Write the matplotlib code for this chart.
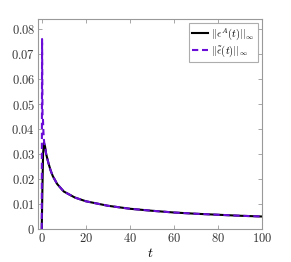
import matplotlib
matplotlib.use("Agg")
import matplotlib.pyplot as plt
from matplotlib.ticker import FuncFormatter

plt.rcParams['mathtext.fontset'] = 'cm'
plt.rcParams['font.family'] = 'serif'
plt.rcParams['font.serif'] = ['DejaVu Serif']

t_a = [0, 0.3, 0.6, 1.0, 1.5, 2, 3, 4, 5, 7, 10, 15, 20, 30, 40, 50, 60, 70, 80, 90, 100]
e_a = [0, 0.016, 0.030, 0.0345, 0.033, 0.030, 0.0265, 0.0235, 0.0212, 0.0180, 0.0150,
       0.0126, 0.0111, 0.0093, 0.0081, 0.0073, 0.0066, 0.0061, 0.0057, 0.0053, 0.0050]

t_b = [0, 0.15, 0.35, 0.55, 0.75, 0.95, 1.2, 1.6, 2, 3, 4, 5, 7, 10, 15, 20, 30, 40, 50, 60, 70, 80, 90, 100]
e_b = [0, 0.076, 0.046, 0.044, 0.039, 0.036, 0.034, 0.0325, 0.030, 0.0265, 0.0235, 0.0212,
       0.0180, 0.0150, 0.0126, 0.0111, 0.0093, 0.0081, 0.0073, 0.0066, 0.0061, 0.0057, 0.0053, 0.0050]

xticks = [0, 20, 40, 60, 80, 100]
yticks = [0, 0.01, 0.02, 0.03, 0.04, 0.05, 0.06, 0.07, 0.08]

fig = plt.figure(figsize=(2.91, 2.62), dpi=100)
ax = fig.add_axes([38/291, 1-229/262, (262-38)/291, (229-19)/262])
ax.plot(t_a, e_a, color='black', lw=1.5, label=r'$||\epsilon^A(t)||_\infty$')
ax.plot(t_b, e_b, color='#6a0dd6', lw=1.5, ls=(0, (3, 1.8)), label=r'$||\tilde{\epsilon}(t)||_\infty$')

ax.set_xlim(-1.7, 100)
ax.set_ylim(0, 0.084)
ax.set_xticks(xticks)
ax.set_yticks(yticks)
ax.xaxis.set_major_formatter(FuncFormatter(lambda v, p: r'$%g$' % v))
ax.yaxis.set_major_formatter(FuncFormatter(lambda v, p: r'$%g$' % round(v, 2)))
ax.tick_params(direction='in', length=3, width=0.6, color='#999999', labelsize=9,
               top=True, right=True, pad=2, labelcolor='#333333')
for s in ax.spines.values():
    s.set_color('#999999')
    s.set_linewidth(0.8)
ax.set_xlabel(r'$t$', fontsize=10, labelpad=1)
leg = ax.legend(loc='upper right', fontsize=7.5, frameon=True, fancybox=False,
                borderpad=0.25, handlelength=1.6, handletextpad=0.3, labelspacing=0.2,
                borderaxespad=0.4)
leg.get_frame().set_edgecolor('#999999')
leg.get_frame().set_linewidth(0.8)
fig.savefig('out.png', dpi=100)
